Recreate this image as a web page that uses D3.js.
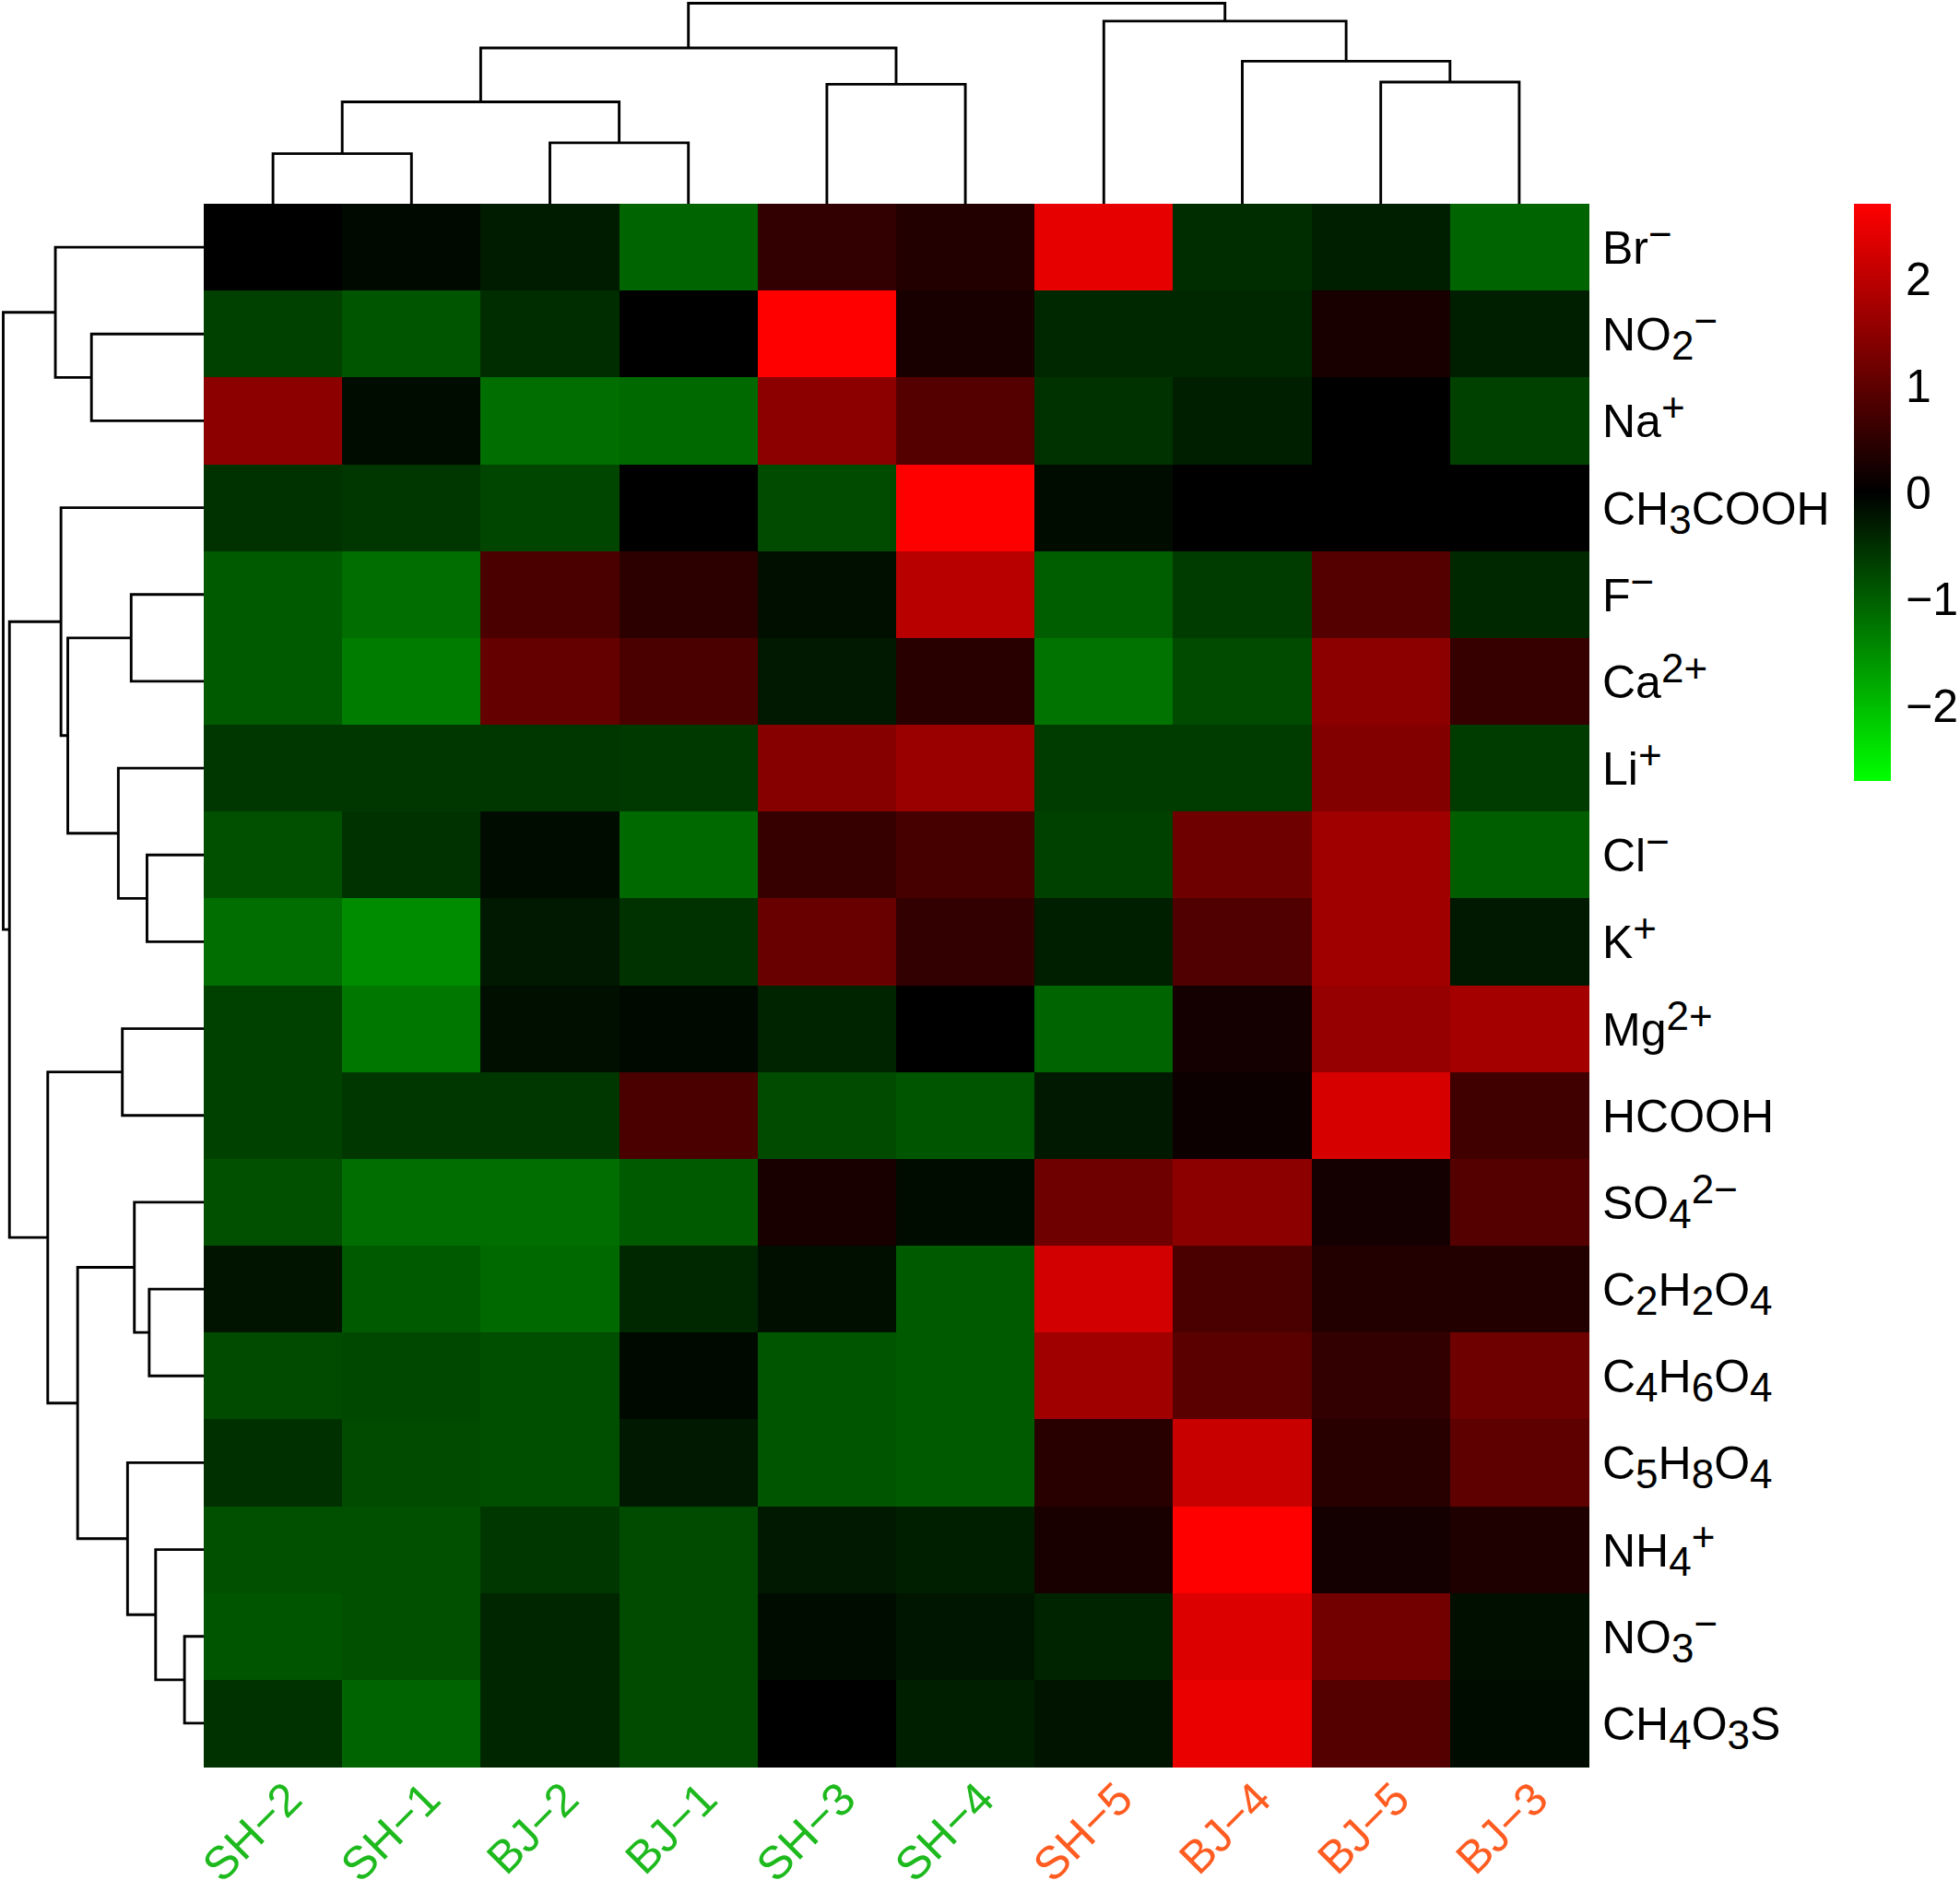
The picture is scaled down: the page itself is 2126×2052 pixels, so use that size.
<!DOCTYPE html>
<html>
<head>
<meta charset="utf-8">
<script src="https://cdn.jsdelivr.net/npm/d3@7"></script>
<style>
  html, body { margin: 0; padding: 0; background: #ffffff; }
  svg { display: block; }
  text { font-family: "Liberation Sans", Arial, Helvetica, sans-serif; }
</style>
</head>
<body>
<script>
// ---------------- DATA ----------------
const colLabels = ["SH−2", "SH−1", "BJ−2", "BJ−1", "SH−3", "SH−4", "SH−5", "BJ−4", "BJ−5", "BJ−3"];
const colGroups = ["a", "a", "a", "a", "a", "a", "b", "b", "b", "b"];

const rowLabels = [
  "Br^{−}", "NO_{2}^{−}", "Na^{+}", "CH_{3}COOH", "F^{−}", "Ca^{2+}", "Li^{+}", "Cl^{−}", "K^{+}",
  "Mg^{2+}", "HCOOH", "SO_{4}^{2−}", "C_{2}H_{2}O_{4}", "C_{4}H_{6}O_{4}", "C_{5}H_{8}O_{4}",
  "NH_{4}^{+}", "NO_{3}^{−}", "CH_{4}O_{3}S"
];

// z-scores, rows in display order, columns in display order
const values = [
  [ 0.00, -0.10, -0.30, -1.06,  0.53,  0.37,  2.43, -0.48, -0.32, -1.06], // Br-
  [-0.69, -0.90, -0.48,  0.00,  2.70,  0.26, -0.42, -0.42,  0.26, -0.32], // NO2-
  [ 1.48, -0.13, -1.16, -1.11,  1.48,  0.90, -0.53, -0.32,  0.00, -0.69], // Na+
  [-0.53, -0.58, -0.74,  0.00, -0.79,  2.70, -0.13,  0.00,  0.00,  0.00], // CH3COOH
  [-0.95, -1.16,  0.79,  0.48, -0.16,  1.96, -1.00, -0.64,  0.90, -0.42], // F-
  [-0.95, -1.32,  1.06,  0.79, -0.26,  0.42, -1.22, -0.79,  1.48,  0.58], // Ca2+
  [-0.58, -0.58, -0.58, -0.60,  1.43,  1.64, -0.64, -0.64,  1.38, -0.64], // Li+
  [-0.85, -0.53, -0.13, -1.11,  0.58,  0.74, -0.69,  1.16,  1.69, -1.00], // Cl-
  [-1.16, -1.48, -0.26, -0.53,  1.11,  0.53, -0.32,  0.85,  1.69, -0.26], // K+
  [-0.69, -1.27, -0.16, -0.10, -0.37,  0.00, -1.06,  0.21,  1.59,  1.75], // Mg2+
  [-0.69, -0.58, -0.58,  0.79, -0.79, -0.90, -0.26,  0.13,  2.28,  0.69], // HCOOH
  [-0.85, -1.16, -1.16, -0.95,  0.26, -0.13,  1.16,  1.48,  0.21,  0.90], // SO4 2-
  [-0.21, -0.95, -1.11, -0.42, -0.16, -0.95,  2.22,  0.79,  0.37,  0.37], // C2H2O4
  [-0.79, -0.76, -0.83, -0.10, -0.90, -0.95,  1.69,  0.95,  0.53,  1.16], // C4H6O4
  [-0.51, -0.79, -0.83, -0.26, -0.90, -0.95,  0.42,  2.12,  0.42,  1.00], // C5H8O4
  [-0.85, -0.85, -0.58, -0.79, -0.26, -0.32,  0.26,  2.70,  0.21,  0.32], // NH4+
  [-0.90, -0.85, -0.40, -0.79, -0.13, -0.23, -0.37,  2.33,  1.22, -0.16], // NO3-
  [-0.53, -1.06, -0.40, -0.79,  0.00, -0.32, -0.21,  2.49,  0.90, -0.13]  // CH4O3S
];

// hclust-style merges: negative = leaf (1-based display index), positive = earlier merge (1-based)
const colMerge = [
  [-1, -2, 2.50], [-3, -4, 3.04], [1, 2, 5.08], [-5, -6, 5.96], [3, 4, 7.77],
  [-9, -10, 6.07], [-8, 6, 7.11], [-7, 7, 9.11], [5, 8, 10.0]
];
const rowMerge = [
  [-17, -18, 0.96], [-16, 1, 2.40], [-13, -14, 2.72], [-8, -9, 2.83], [-12, 3, 3.46],
  [-5, -6, 3.62], [-15, 2, 3.80], [-10, -11, 4.06], [-7, 4, 4.26], [5, 7, 6.29],
  [6, 9, 6.78], [-2, -3, 5.60], [-4, 11, 7.12], [-1, 12, 7.40], [8, 10, 7.78],
  [13, 15, 9.69], [14, 16, 10.0]
];

const legendTicks = [-2, -1, 0, 1, 2];
const colorDomain = [-2.7, 0, 2.7];
const colorRange = ["#00ff00", "#000000", "#ff0000"];
const groupColors = { a: "#1db91d", b: "#ff5c21" };

// ---------------- LAYOUT ----------------
const W = 2126, H = 2052;
const hm = { left: 221, right: 1723, top: 221, bottom: 1916 };
const FS = 50;

const svg = d3.select("body").append("svg").attr("width", W).attr("height", H);

const rowKeys = rowLabels.map((d, i) => i);
const x = d3.scaleBand().domain(d3.range(colLabels.length)).range([hm.left, hm.right]);
const y = d3.scaleBand().domain(rowKeys).range([hm.top, hm.bottom]);
const color = d3.scaleLinear().domain(colorDomain).range(colorRange).interpolate(d3.interpolateRgb).clamp(true);

// heatmap cells
const cells = [];
values.forEach((row, r) => row.forEach((v, c) => cells.push({ r, c, v })));
svg.append("g").attr("shape-rendering", "crispEdges")
  .selectAll("rect").data(cells).join("rect")
  .attr("x", d => x(d.c)).attr("y", d => y(d.r))
  .attr("width", x.bandwidth() + 0.5).attr("height", y.bandwidth() + 0.5)
  .attr("fill", d => color(d.v));

// dendrograms
function dendroPaths(merge, leafPos, hScale, orient) {
  const pos = [], hgt = [];
  const P = k => k < 0 ? leafPos(-k - 1) : pos[k - 1];
  const Hh = k => k < 0 ? 0 : hgt[k - 1];
  const paths = [];
  merge.forEach(([a, b, h], i) => {
    const pa = P(a), pb = P(b), ha = hScale(Hh(a)), hb = hScale(Hh(b)), hh = hScale(h);
    pos[i] = (pa + pb) / 2; hgt[i] = h;
    if (orient === "top") paths.push(`M${pa},${ha}V${hh}H${pb}V${hb}`);
    else paths.push(`M${ha},${pa}H${hh}V${pb}H${hb}`);
  });
  return paths;
}
const colH = d3.scaleLinear().domain([0, 10]).range([hm.top, 3.5]);
const rowH = d3.scaleLinear().domain([0, 10]).range([hm.left, 3.5]);

svg.append("g").selectAll("path")
  .data(dendroPaths(colMerge, i => x(i) + x.bandwidth() / 2, colH, "top"))
  .join("path").attr("d", d => d).attr("fill", "none").attr("stroke", "#000").attr("stroke-width", 2.9);
svg.append("g").selectAll("path")
  .data(dendroPaths(rowMerge, i => y(i) + y.bandwidth() / 2, rowH, "left"))
  .join("path").attr("d", d => d).attr("fill", "none").attr("stroke", "#000").attr("stroke-width", 2.9);

// row labels with sub/superscripts
function parseLabel(s) {
  const re = /(_\{[^}]*\}|\^\{[^}]*\}|[^_^]+)/g;
  return (s.match(re) || []).map(t => {
    if (t[0] === "_") return { t: t.slice(2, -1), k: "sub" };
    if (t[0] === "^") return { t: t.slice(2, -1), k: "sup" };
    return { t, k: "n" };
  });
}
const SCRIPT = 0.88, SUB = 10, SUP = -17;
const rowText = svg.append("g").selectAll("text").data(rowLabels).join("text")
  .attr("x", hm.right + 15)
  .attr("y", (d, i) => y(i) + y.bandwidth() / 2 + 18)
  .attr("font-size", FS).attr("fill", "#000");
rowText.each(function (d) {
  let cur = 0;
  const t = d3.select(this);
  parseLabel(d).forEach(p => {
    const target = p.k === "sub" ? SUB : p.k === "sup" ? SUP : 0;
    t.append("tspan").text(p.t)
      .attr("dy", target - cur)
      .attr("font-size", p.k === "n" ? FS : FS * SCRIPT);
    cur = target;
  });
});

// column labels
svg.append("g").selectAll("text").data(colLabels).join("text")
  .attr("transform", (d, i) => `translate(${x(i) + x.bandwidth() / 2 + 34},${hm.bottom + 38}) rotate(-45)`)
  .attr("text-anchor", "end")
  .attr("font-size", FS)
  .attr("fill", (d, i) => groupColors[colGroups[i]])
  .text(d => d);

// legend
const lg = { x: 2011, w: 40, top: 221, bottom: 846 };
const ly = d3.scaleLinear().domain([colorDomain[0], colorDomain[2]]).range([lg.bottom, lg.top]);
const steps = d3.range(0, 200).map(i => colorDomain[0] + (i + 0.5) * (colorDomain[2] - colorDomain[0]) / 200);
const stepH = (lg.bottom - lg.top) / 200;
svg.append("g").attr("shape-rendering", "crispEdges").selectAll("rect").data(steps).join("rect")
  .attr("x", lg.x).attr("width", lg.w)
  .attr("y", d => ly(d) - stepH / 2).attr("height", stepH + 0.6)
  .attr("fill", d => color(d));
svg.append("g").selectAll("text").data(legendTicks).join("text")
  .attr("x", lg.x + lg.w + 16)
  .attr("y", d => ly(d) + 18)
  .attr("font-size", FS)
  .attr("fill", "#000")
  .text(d => d < 0 ? "−" + Math.abs(d) : String(d));
</script>
</body>
</html>
